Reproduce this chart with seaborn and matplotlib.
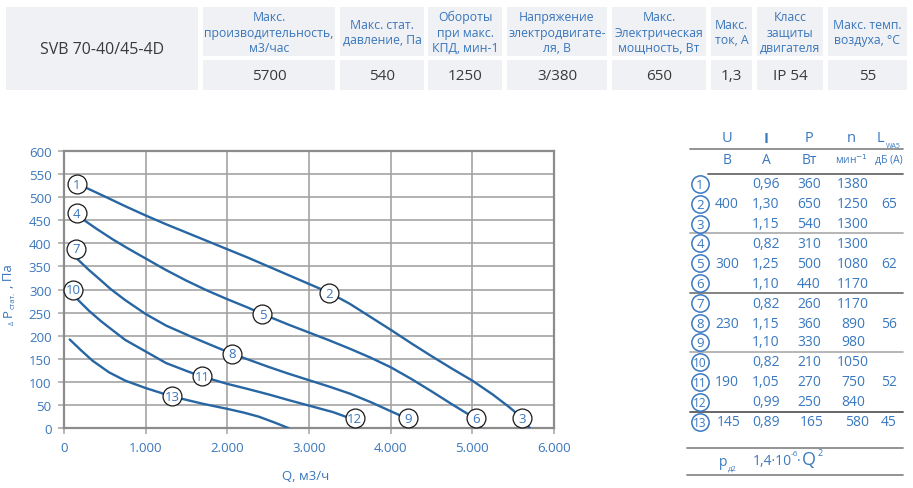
import numpy as np
import pandas as pd
import matplotlib
matplotlib.use("Agg")
import matplotlib.pyplot as plt
import seaborn as sns
from matplotlib.patches import Rectangle
from matplotlib.ticker import FuncFormatter

# ---------------- data ----------------
model_name = "SVB 70-40/45-4D"
spec_headers = ["Макс.\nпроизводительность,\nм3/час", "Макс. стат.\nдавление, Па",
                "Обороты\nпри макс.\nКПД, мин-1", "Напряжение\nэлектродвигате-\nля, В",
                "Макс.\nЭлектрическая\nмощность, Вт", "Макс.\nток, А",
                "Класс\nзащиты\nдвигателя", "Макс. темп.\nвоздуха, °С"]
spec_values = ["5700", "540", "1250", "3/380", "650", "1,3", "IP 54", "55"]

# fan curves (Q, м3/ч ; P, Па)
q_400 = [257, 500, 750, 1000, 1250, 1500, 1750, 2000, 2250, 2500, 2750, 3000, 3250,
         3500, 3750, 4000, 4250, 4500, 4750, 5000, 5250, 5450, 5600, 5705]
p_400 = [521, 501, 480, 460, 441, 423, 405, 387, 369, 350, 331, 312, 293,
         269, 241, 213, 184, 156, 129, 103, 73, 46, 24, 0]
q_300 = [245, 400, 600, 800, 1000, 1250, 1500, 1750, 2000, 2250, 2430, 2750, 3000,
         3250, 3500, 3750, 4000, 4250, 4500, 4750, 5000, 5110]
p_300 = [450, 431, 408, 387, 367, 342, 319, 298, 279, 261, 247, 224, 207,
         190, 172, 153, 132, 107, 80, 52, 25, 0]
q_230 = [151, 300, 450, 571, 750, 1000, 1250, 1571, 1800, 2060, 2250, 2500, 2750,
         3000, 3250, 3500, 3750, 4000, 4214, 4260]
p_230 = [368, 343, 320, 301, 277, 247, 222, 197, 180, 161, 149, 133, 118,
         104, 90, 75, 57, 37, 20, 0]
q_190 = [163, 306, 450, 551, 750, 1000, 1250, 1500, 1686, 2000, 2250, 2510, 2750,
         3000, 3294, 3560, 3610]
p_190 = [279, 254, 232, 218, 191, 166, 141, 124, 112, 96, 85, 73, 61,
         49, 35, 18, 0]
q_145 = [70, 200, 350, 551, 750, 1000, 1320, 1700, 2000, 2200, 2388, 2600, 2755]
p_145 = [192, 170, 146, 121, 103, 87, 69, 53, 42, 34, 25, 11, 0]

marker_ids = ["1", "2", "3", "4", "5", "6", "7", "8", "9", "10", "11", "12", "13"]
marker_q = [155, 3250, 5605, 155, 2430, 5050, 145, 2060, 4210, 110, 1690, 3560, 1320]
marker_p = [528, 292, 22, 465, 246, 22, 388, 161, 22, 299, 112, 22, 69]

x_ticks = [0, 1000, 2000, 3000, 4000, 5000, 6000]
y_ticks = list(range(0, 601, 50))

# right-hand table
tab_U = ["400", "300", "230", "190", "145"]
tab_I = ["0,96", "1,30", "1,15", "0,82", "1,25", "1,10", "0,82", "1,15", "1,10",
         "0,82", "1,05", "0,99", "0,89"]
tab_P = ["360", "650", "540", "310", "500", "440", "260", "360", "330", "210", "270", "250", "165"]
tab_n = ["1380", "1250", "1300", "1300", "1080", "1170", "1170", "890", "980",
         "1050", "750", "840", "580"]
tab_L = ["65", "62", "56", "52", "45"]

# ---------------- style ----------------
sns.set_theme(style="white")
plt.rcParams["font.family"] = ["Open Sans", "DejaVu Sans"]
BLUE = "#3a76bb"
LINE = "#2766a3"
DARK = "#3a3a3a"
W, H = 913, 489

fig = plt.figure(figsize=(W / 100, H / 100), dpi=100)
fig.patch.set_facecolor("white")

ax = fig.add_axes([64 / W, 1 - 429.3 / H, (554 - 64) / W, (429.3 - 151.7) / H])
frames = []
for name, q, p in [("400", q_400, p_400), ("300", q_300, p_300), ("230", q_230, p_230),
                   ("190", q_190, p_190), ("145", q_145, p_145)]:
    frames.append(pd.DataFrame({"Q": q, "P": p, "curve": name}))
df = pd.concat(frames, ignore_index=True)
sns.lineplot(data=df, x="Q", y="P", units="curve", estimator=None, sort=False,
             color=LINE, lw=1.7, ax=ax, zorder=3)
sns.scatterplot(x=marker_q, y=marker_p, s=185, color="white", edgecolor="#1a1a1a",
                linewidth=0.9, ax=ax, zorder=5, clip_on=False)
for lab, q, p in zip(marker_ids, marker_q, marker_p):
    ax.text(q, p, lab, ha="center", va="center", color=BLUE, fontsize=9.5, zorder=6)

ax.set_xlim(0, 6000)
ax.set_ylim(0, 600)
ax.set_xticks(x_ticks)
ax.set_yticks(y_ticks)
ax.xaxis.set_major_formatter(FuncFormatter(lambda v, _: f"{int(v):,}".replace(",", ".")))
ax.grid(True, color="#a4a4a4", lw=1.2)
ax.set_axisbelow(True)
for s in ax.spines.values():
    s.set_color("#8c8c8c")
    s.set_linewidth(1.6)
ax.tick_params(axis="both", bottom=True, left=True, length=4, width=1.1, color="#a4a4a4",
               labelcolor=BLUE, labelsize=9.5)
ax.tick_params(axis="x", pad=5)
ax.tick_params(axis="y", pad=5)
ax.set_xlabel("")
ax.set_ylabel("")

# ---------------- overlay in pixel coordinates ----------------
ov = fig.add_axes([0, 0, 1, 1])
ov.set_xlim(0, W)
ov.set_ylim(H, 0)
ov.axis("off")
ov.patch.set_alpha(0)

CELL = "#eff1f5"
col_edges = [(203, 335), (340, 424), (428, 502), (507, 607), (612, 706),
             (711, 752), (757, 823), (828, 907)]
ov.add_patch(Rectangle((6, 8), 192, 83, fc=CELL, ec="none"))
ov.text(102, 49.5, model_name, ha="center", va="center", color=DARK, fontsize=11.5)
for (x0, x1), hdr, val in zip(col_edges, spec_headers, spec_values):
    ov.add_patch(Rectangle((x0, 8), x1 - x0, 49, fc=CELL, ec="none"))
    ov.add_patch(Rectangle((x0, 61), x1 - x0, 30, fc=CELL, ec="none"))
    ov.text((x0 + x1) / 2, 33, hdr, ha="center", va="center", color=BLUE,
            fontsize=8.8, linespacing=1.25)
    ov.text((x0 + x1) / 2, 76, val, ha="center", va="center", color=DARK, fontsize=11)

# axis labels
ov.text(306, 477, "Q, м3/ч", ha="center", va="center", color=BLUE, fontsize=9.5)
ov.text(12, 322.7, "Δ", ha="center", va="center", color=BLUE, fontsize=5, rotation=90)
ov.text(8.5, 313.5, "P", ha="center", va="center", color=BLUE, fontsize=9.5, rotation=90)
ov.text(13.5, 300, "стат.", ha="center", va="center", color=BLUE, fontsize=5.5, rotation=90)
ov.text(8.5, 276, ", Па", ha="center", va="center", color=BLUE, fontsize=9.5, rotation=90)

# right table
TB = "#3a78c0"
hx = {"U": 727, "I": 766, "P": 809, "n": 851}
for k, x in hx.items():
    ov.text(x, 139, k, ha="center", va="center", color=TB, fontsize=10.5,
            fontweight="bold" if k == "I" else "normal")
ov.text(880, 139, "L", ha="center", va="center", color=TB, fontsize=10.5)
ov.text(893, 146, "WA5", ha="center", va="center", color=TB, fontsize=5)
ov.text(727, 160, "В", ha="center", va="center", color=TB, fontsize=10)
ov.text(766, 160, "А", ha="center", va="center", color=TB, fontsize=10)
ov.text(809, 160, "Вт", ha="center", va="center", color=TB, fontsize=10)
ov.text(851, 160, r"мин$^{-1}$", ha="center", va="center", color=TB, fontsize=7.5)
ov.text(889, 160, "дБ (А)", ha="center", va="center", color=TB, fontsize=7.5)

rows_y = [185, 205, 225, 244, 264, 284, 304, 324, 343, 363, 383, 403, 423]
ov.scatter([700] * len(rows_y), rows_y, s=155, facecolor="white", edgecolor=TB,
           linewidth=1.1, zorder=3)
for i, y in enumerate(rows_y):
    ov.text(700, y + 0.5, str(i + 1), ha="center", va="center", color=TB,
            fontsize=9.5 if i < 9 else 8.5, zorder=4)
    ov.text(766, y, tab_I[i], ha="center", va="center", color=TB, fontsize=10)
    ov.text(809 if i < 12 else 812, y, tab_P[i], ha="center", va="center", color=TB, fontsize=10)
    ov.text(853 if i < 12 else 857, y, tab_n[i], ha="center", va="center", color=TB, fontsize=10)
for g, (u, l) in enumerate(zip(tab_U, tab_L)):
    y = rows_y[g * 3 + 1] if g < 4 else rows_y[12]
    ov.text(727 if g < 4 else 729, y, u, ha="center", va="center", color=TB, fontsize=10)
    ov.text(889, y, l, ha="center", va="center", color=TB, fontsize=10)

for y, x0, c in [(150, 690, "#8a8a8a"), (174.5, 708, "#6a6a6a"), (233.5, 690, "#b0b0b0"),
                 (293.5, 690, "#7a7a7a"), (352.7, 690, "#b0b0b0"), (413.3, 690, "#5a5a5a"),
                 (449.3, 687, "#8a8a8a"), (475.7, 687, "#8a8a8a")]:
    ov.plot([x0, 903], [y, y], color=c, lw=1.3)

# formula
ov.text(723, 463, "p", ha="center", va="center", color=TB, fontsize=10)
ov.text(732, 469, "д2", ha="center", va="center", color=TB, fontsize=5.5)
ov.text(753, 461.5, "1,4·10", ha="left", va="center", color=TB, fontsize=10)
ov.text(790.5, 455, "-6", ha="left", va="center", color=TB, fontsize=6)
ov.text(797.5, 461.5, "·", ha="left", va="center", color=TB, fontsize=10)
ov.text(802, 460.5, "Q", ha="left", va="center", color=TB, fontsize=13)
ov.text(818, 454, "2", ha="left", va="center", color=TB, fontsize=6.5)

fig.savefig("out.png", dpi=100)
